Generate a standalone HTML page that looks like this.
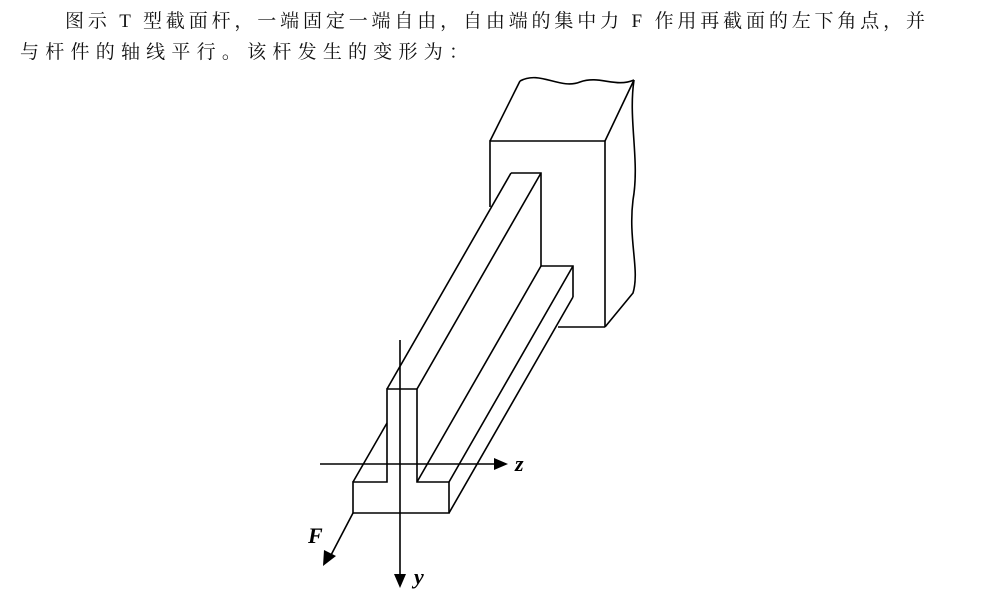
<!DOCTYPE html>
<html><head><meta charset="utf-8"><style>
html,body{margin:0;padding:0;background:#fff;width:998px;height:607px;overflow:hidden}
</style></head><body>
<svg width="998" height="607" viewBox="0 0 998 607" xmlns="http://www.w3.org/2000/svg">
<g font-family="'Liberation Serif','Noto Serif CJK SC',serif" font-size="19" fill="#111">
<text x="65" y="27" textLength="860" lengthAdjust="spacing">图示 T 型截面杆，一端固定一端自由，自由端的集中力 F 作用再截面的左下角点，并</text>
<text x="20" y="58" textLength="448" lengthAdjust="spacing">与杆件的轴线平行。该杆发生的变形为：</text>
</g>
<g stroke="#000" stroke-width="1.6" fill="none" stroke-linejoin="miter">
<path d="M490 207 L490 141 L605 141 L605 327"/>
<path d="M490 141 L520 81"/>
<path d="M605 141 L634 80"/>
<path d="M520 81 C540 70,560 90,580 82 C600 75,615 88,634 80"/>
<path d="M634 80 C628 120,640 160,633 200 C628 240,640 270,633 293 L605 327"/>
<path d="M558 327 L605 327"/>
<path d="M511 173 L541 173 L541 266 L573 266 L573 297"/>
<path d="M387 389 L511 173"/>
<path d="M417 389 L541 173"/>
<path d="M417 482 L541 266"/>
<path d="M449 482 L573 266"/>
<path d="M449 513 L573 297"/>
<path d="M353 482 L387 423"/>
<path d="M387 389 L417 389 L417 482 L449 482 L449 513 L353 513 L353 482 L387 482 Z"/>
<path d="M400 340 L400 578"/>
<path d="M320 464 L498 464"/>
<path d="M353 513 L330 557"/>
</g>
<g fill="#000">
<polygon points="508,464 494,458 494,470"/>
<polygon points="400,588 394,574 406,574"/>
<polygon points="323,566 324,550 336,556"/>
</g>
<g font-family="'Liberation Serif',serif" font-style="italic" font-weight="bold" font-size="22" fill="#000">
<text x="515" y="471">z</text>
<text x="414" y="584">y</text>
<text x="308" y="543">F</text>
</g>
</svg>
</body></html>
